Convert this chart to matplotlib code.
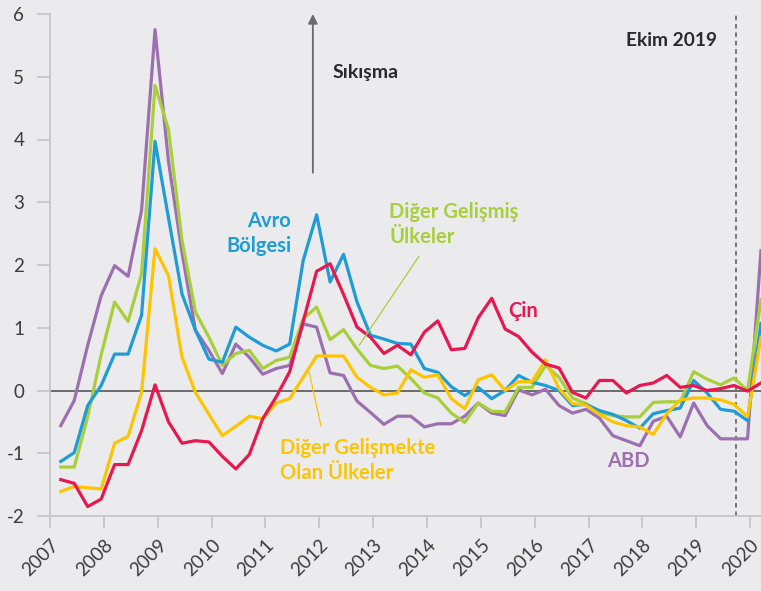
import numpy as np
import matplotlib
matplotlib.use("Agg")
import matplotlib.pyplot as plt

plt.rcParams["font.family"] = ["Lato", "DejaVu Sans"]

# quarterly observations, 2007 to early 2020
start_year = 2007.2
n_obs = 53
dates = start_year + 0.25 * np.arange(n_obs)

abd = [-0.56, -0.16, 0.72, 1.51, 1.99, 1.82, 2.87, 5.75, 3.65, 2.20,
       0.96, 0.64, 0.27, 0.74, 0.53, 0.26, 0.35, 0.40, 1.06, 1.01,
       0.28, 0.24, -0.17, -0.35, -0.54, -0.41, -0.41, -0.58, -0.53, -0.53,
       -0.41, -0.20, -0.36, -0.40, 0.01, -0.07, 0.02, -0.24, -0.36, -0.30,
       -0.44, -0.72, -0.80, -0.88, -0.49, -0.41, -0.74, -0.20, -0.56, -0.77,
       -0.77, -0.77, 2.23]
diger_gelismis = [-1.22, -1.22, -0.42, 0.57, 1.41, 1.10, 1.86, 4.86, 4.16, 2.40,
                  1.25, 0.85, 0.40, 0.59, 0.64, 0.35, 0.48, 0.53, 1.14, 1.33,
                  0.81, 0.97, 0.66, 0.40, 0.35, 0.39, 0.19, -0.04, -0.12, -0.36,
                  -0.51, -0.20, -0.33, -0.34, 0.05, 0.05, 0.40, 0.21, -0.12, -0.21,
                  -0.35, -0.40, -0.42, -0.42, -0.19, -0.18, -0.18, 0.30, 0.18, 0.09,
                  0.20, 0.00, 1.45]
avro = [-1.13, -0.99, -0.24, 0.08, 0.58, 0.58, 1.20, 3.97, 2.75, 1.54,
        0.96, 0.50, 0.45, 1.01, 0.85, 0.72, 0.63, 0.74, 2.07, 2.80,
        1.73, 2.17, 1.41, 0.88, 0.82, 0.75, 0.74, 0.35, 0.29, 0.06,
        -0.08, 0.05, -0.13, 0.00, 0.24, 0.13, 0.08, 0.00, -0.24, -0.22,
        -0.32, -0.38, -0.48, -0.60, -0.37, -0.32, -0.28, 0.16, -0.04, -0.30,
        -0.33, -0.48, 1.07]
diger_gelismekte = [-1.61, -1.53, -1.55, -1.57, -0.84, -0.73, -0.03, 2.26, 1.83, 0.53,
                    -0.03, -0.38, -0.72, -0.57, -0.41, -0.45, -0.20, -0.13, 0.21, 0.55,
                    0.55, 0.55, 0.21, 0.05, -0.07, -0.04, 0.33, 0.21, 0.25, -0.13,
                    -0.29, 0.17, 0.25, 0.00, 0.14, 0.14, 0.49, 0.03, -0.21, -0.23,
                    -0.38, -0.50, -0.56, -0.58, -0.70, -0.37, -0.15, -0.12, -0.12, -0.15,
                    -0.22, -0.42, 0.85]
cin = [-1.42, -1.48, -1.85, -1.73, -1.18, -1.18, -0.64, 0.09, -0.50, -0.84,
       -0.80, -0.82, -1.05, -1.25, -1.02, -0.45, -0.10, 0.30, 1.10, 1.90,
       2.02, 1.53, 1.01, 0.85, 0.59, 0.72, 0.57, 0.93, 1.11, 0.65,
       0.67, 1.16, 1.47, 0.98, 0.86, 0.61, 0.42, 0.36, -0.03, -0.12,
       0.16, 0.16, -0.04, 0.08, 0.12, 0.24, 0.05, 0.08, 0.00, 0.03,
       0.08, -0.01, 0.12]

years = list(range(2007, 2021))
yticks = list(range(-2, 7))
ekim_2019 = 2019.73

bg = "#ebebee"
c_abd = "#9b6fb0"
c_gelismis = "#a8cf3a"
c_avro = "#1d9cd8"
c_gelismekte = "#fdc400"
c_cin = "#e8174f"
grey = "#c6c6c8"
dark = "#555555"

fig = plt.figure(figsize=(7.61, 5.91), dpi=100, facecolor=bg)
ax = fig.add_axes([50 / 761, 75 / 591, 711 / 761, 502 / 591], facecolor=bg)

ax.axhline(0, color=dark, lw=1.2, zorder=1)
ax.axvline(ekim_2019, color=dark, lw=1.1, ls=(0, (3, 2.5)), zorder=1)

lw = 2.3
ax.plot(dates, abd, color=c_abd, lw=lw, zorder=2)
ax.plot(dates, diger_gelismis, color=c_gelismis, lw=lw, zorder=3)
ax.plot(dates, avro, color=c_avro, lw=lw, zorder=4)
ax.plot(dates, diger_gelismekte, color=c_gelismekte, lw=lw, zorder=5)
ax.plot(dates, cin, color=c_cin, lw=lw, zorder=6)

ax.set_xlim(2007, 2020.2)
ax.set_ylim(-2, 6)

for side in ["top", "right"]:
    ax.spines[side].set_visible(False)
for side in ["left", "bottom"]:
    ax.spines[side].set_color(grey)
    ax.spines[side].set_linewidth(1.3)

ax.set_yticks(yticks)
ax.set_yticklabels([str(v) for v in yticks])
ax.set_xticks(years)
ax.set_xticklabels([str(y) for y in years], rotation=45, ha="right",
                   rotation_mode="anchor")
ax.tick_params(axis="y", length=9.5, width=1.3, color=grey, pad=9,
               labelsize=13.5, labelcolor="#3c3c3c")
ax.tick_params(axis="x", length=8.5, width=1.3, color=grey, pad=6,
               labelsize=13.5, labelcolor="#3c3c3c")
ax.yaxis.get_major_ticks()[2].tick1line.set_color(dark)

# arrow and annotations
ax.annotate("", xy=(2011.88, 6.0), xytext=(2011.88, 3.47),
            arrowprops=dict(arrowstyle="-|>", color="#6a6a6a", lw=1.3,
                            mutation_scale=14, shrinkA=0, shrinkB=0))
ax.text(2012.25, 5.07, "Sıkışma", fontsize=14, fontweight="bold",
        color="#2b2b2b", va="center", ha="left")
ax.text(2019.38, 5.58, "Ekim 2019", fontsize=13.8, fontweight="bold",
        color="#2b2b2b", va="center", ha="right")

lab = dict(fontsize=14.5, fontweight="bold", linespacing=1.3)
ax.text(2011.48, 2.5, "Avro\nBölgesi", color=c_avro, ha="right",
        va="center", **lab)
ax.text(2013.3, 2.65, "Diğer Gelişmiş\nÜlkeler", color=c_gelismis,
        ha="left", va="center", **lab)
ax.plot([2013.85, 2012.74], [2.14, 0.72], color=c_gelismis, lw=0.9, zorder=7)
ax.text(2011.27, -1.12, "Diğer Gelişmekte\nOlan Ülkeler", color=c_gelismekte,
        ha="left", va="center", **lab)
ax.plot([2011.81, 2012.03], [0.30, -0.56], color=c_gelismekte, lw=0.9, zorder=7)
ax.text(2015.5, 1.27, "Çin", color=c_cin, ha="left", va="center", **lab)
ax.text(2017.73, -1.13, "ABD", color=c_abd, ha="center", va="center", **lab)

fig.savefig("out.png", dpi=100, facecolor=bg)
